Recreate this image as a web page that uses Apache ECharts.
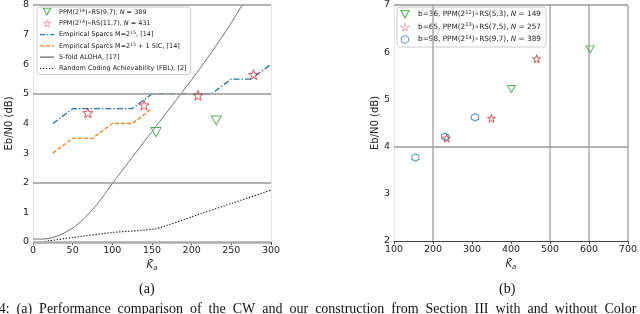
<!DOCTYPE html>
<html><head><meta charset="utf-8">
<script src="https://cdn.jsdelivr.net/npm/echarts@6/dist/echarts.min.js"></script>
<style>html,body{margin:0;padding:0;background:#fff}#c{width:640px;height:314px}</style>
</head><body><div id="c"></div>
<script>
// ---- Left chart data (a) ----
const triA = [[155, 3.71], [231, 4.1]];
const starA = [[69, 4.36], [140, 4.62], [208, 4.95], [278, 5.65]];
const sparcsBlue = [[25, 4.0], [50, 4.5], [125, 4.5], [150, 5.0], [225, 5.0], [250, 5.5], [275, 5.5], [300, 6.0]];
const sparcsOrange = [[25, 3.0], [50, 3.5], [75, 3.5], [100, 4.0], [125, 4.0], [150, 4.5]];
const aloha = [[0, 0.1], [13, 0.1], [25, 0.15], [38, 0.29], [50, 0.47], [60, 0.68], [70, 0.95], [80, 1.25], [90, 1.6], [100, 1.97], [110, 2.33], [120, 2.68], [130, 3.03], [150, 3.73], [175, 4.6], [200, 5.48], [225, 6.4], [250, 7.4], [275, 8.5]];
const fbl = [[15, 0.02], [50, 0.15], [100, 0.32], [155, 0.45], [200, 0.85], [250, 1.3], [300, 1.75]];
const refLinesA = [2, 5, 8];
// ---- Right chart data (b) ----
const triB = [[401, 5.22], [603, 6.06]];
const starB = [[235, 4.18], [350, 4.6], [466, 5.86]];
const hexB = [[155, 3.77], [231, 4.21], [308, 4.62]];
const vLinesB = [200, 500, 600, 700];
const hLinesB = [4, 7];

const TRI = 'path://M0,0 L10,0 L5,9 Z';
const STAR = 'path://M5,0 L6.18,3.62 L10,3.62 L6.91,5.86 L8.09,9.5 L5,7.25 L1.91,9.5 L3.09,5.86 L0,3.62 L3.82,3.62 Z';
const HEX = 'path://M5,0 L9.33,2.5 L9.33,7.5 L5,10 L0.67,7.5 L0.67,2.5 Z';
// hollow legend icons (outer contour + reversed inner contour)
const TRI_H = TRI + ' M1.9,0.9 L5,6.6 L8.1,0.9 Z';
const STAR_H = STAR + ' M5,1.47 L4.15,4.08 L1.4,4.08 L3.62,5.69 L2.78,8.31 L5,6.69 L7.22,8.31 L6.38,5.69 L8.6,4.08 L5.85,4.08 Z';
const HEX_H = HEX + ' M5,1 L1.54,3 L1.54,7 L5,9 L8.46,7 L8.46,3 Z';
const BOX = 'M0,0h0.01v0.01h-0.01z M13.99,7.99h0.01v0.01h-0.01z ';
const ICON_DASHDOT = 'path://' + BOX + 'M0,3.35h5v1.3h-5z M7,3.35h1.3v1.3h-1.3z M10.3,3.35h3.7v1.3h-3.7z';
const ICON_DASH = 'path://' + BOX + 'M0,3.35h4v1.3h-4z M6,3.35h4v1.3h-4z M12,3.35h2v1.3h-2z';
const ICON_SOLID = 'path://' + BOX + 'M0,3.4h14v1.2h-14z';
const ICON_DOT = 'path://' + BOX + 'M0,3.4h1.2v1.2h-1.2z M3,3.4h1.2v1.2h-1.2z M6,3.4h1.2v1.2h-1.2z M9,3.4h1.2v1.2h-1.2z M12,3.4h1.2v1.2h-1.2z';
const GREEN = '#2ca02c', RED = '#d62728', BLUE = '#1f77b4', ORANGE = '#ff7f0e';

const labels = {
  'triA': '{n|PPM(2}{s|14}{n|)∘RS(9,7), }{i|N}{n| = 389}',
  'starA': '{n|PPM(2}{s|14}{n|)∘RS(11,7), }{i|N}{n| = 431}',
  'blue': '{n|Empirical Sparcs M=2}{s|15}{n|, [14]}',
  'orange': '{n|Empirical Sparcs M=2}{s|15}{n| + 1 SIC, [14]}',
  'aloha': '{n|5-fold ALOHA, [17]}',
  'fbl': '{n|Random Coding Achievability (FBL), [2]}',
  'triB': '{n|b=36, PPM(2}{s|12}{n|)∘RS(5,3), }{i|N}{n| = 149}',
  'starB': '{n|b=65, PPM(2}{s|13}{n|)∘RS(7,5), }{i|N}{n| = 257}',
  'hexB': '{n|b=98, PPM(2}{s|14}{n|)∘RS(9,7), }{i|N}{n| = 389}'
};
const FONT = 'DejaVu Sans';
function rich(fs, lh) {
  return {
    n: {fontSize: fs, fontFamily: FONT, color: '#222', lineHeight: lh},
    s: {fontSize: fs * 0.7, fontFamily: FONT, color: '#222', lineHeight: lh, verticalAlign: 'top'},
    i: {fontSize: fs, fontFamily: FONT, fontStyle: 'italic', color: '#222', lineHeight: lh}
  };
}
const axisLabelStyle = {fontFamily: FONT, fontSize: 9.5, color: '#222', margin: 4};
const xName = '{k|K̄}{a|a}';
const xNameStyle = {rich: {k: {fontFamily: FONT, fontStyle: 'italic', fontSize: 10, color: '#222'}, a: {fontFamily: FONT, fontStyle: 'italic', fontSize: 7, color: '#222', verticalAlign: 'bottom', padding: [4, 0, 0, 0]}}};

function scatterSeries(name, data, sym, size, color, xi) {
  return {name: name, type: 'scatter', xAxisIndex: xi, yAxisIndex: xi, data: data, symbol: sym, symbolSize: size,
    itemStyle: {color: 'rgba(255,255,255,0)', borderColor: color, borderWidth: 1}, z: 5};
}
function lineSeries(name, data, color, type, width, smooth) {
  return {name: name, type: 'line', xAxisIndex: 0, yAxisIndex: 0, data: data, symbol: 'none', clip: true, smooth: smooth || false,
    lineStyle: {color: color, type: type, width: width}, itemStyle: {color: color}, z: 3};
}
function legItem(name, icon, color) {
  return {name: name, icon: icon, itemStyle: {color: color, borderWidth: 0, borderColor: 'transparent'}};
}

const chart = echarts.init(document.getElementById('c'), null, {renderer: 'canvas'});
chart.setOption({
  animation: false,
  grid: [
    {left: 33, right: 369, top: 4, bottom: 72},
    {left: 394, right: 9, top: 4, bottom: 73}
  ],
  xAxis: [
    {gridIndex: 0, type: 'value', min: 0, max: 300, interval: 50,
      axisLine: {show: false}, axisTick: {show: true, length: 3, lineStyle: {color: '#444'}}, splitLine: {show: false},
      axisLabel: axisLabelStyle, name: xName, nameLocation: 'middle', nameGap: 17, nameTextStyle: xNameStyle},
    {gridIndex: 1, type: 'value', min: 100, max: 700, interval: 100,
      axisLine: {show: true, lineStyle: {color: '#444', width: 1}}, axisTick: {show: true, length: 3, lineStyle: {color: '#444'}}, splitLine: {show: false},
      axisLabel: axisLabelStyle, name: xName, nameLocation: 'middle', nameGap: 17, nameTextStyle: xNameStyle}
  ],
  yAxis: [
    {gridIndex: 0, type: 'value', min: 0, max: 8, interval: 1,
      axisLine: {show: true, lineStyle: {color: '#e6e6e6'}}, axisTick: {show: false}, splitLine: {show: false},
      axisLabel: axisLabelStyle, name: 'Eb/N0 (dB)', nameLocation: 'middle', nameGap: 19,
      nameTextStyle: {fontFamily: FONT, fontSize: 10, color: '#222'}},
    {gridIndex: 1, type: 'value', min: 2, max: 7, interval: 1,
      axisLine: {show: true, lineStyle: {color: '#e6e6e6'}}, axisTick: {show: false}, splitLine: {show: false},
      axisLabel: axisLabelStyle, name: 'Eb/N0 (dB)', nameLocation: 'middle', nameGap: 14,
      nameTextStyle: {fontFamily: FONT, fontSize: 10, color: '#222'}}
  ],
  legend: [
    {left: 37, top: 7, orient: 'vertical', itemWidth: 14, itemHeight: 8, itemGap: 3.3, symbolKeepAspect: true,
      padding: [1, 4, 2, 3], borderColor: '#ccc', borderWidth: 1, borderRadius: 3, backgroundColor: 'rgba(255,255,255,0.85)',
      data: [legItem('triA', TRI_H, GREEN), legItem('starA', STAR_H, RED), legItem('blue', ICON_DASHDOT, BLUE),
             legItem('orange', ICON_DASH, ORANGE), legItem('aloha', ICON_SOLID, '#666'), legItem('fbl', ICON_DOT, '#111')],
      formatter: n => labels[n], textStyle: {rich: rich(6.5, 8)}},
    {left: 397, top: 7, orient: 'vertical', itemWidth: 16, itemHeight: 9, itemGap: 3.5, symbolKeepAspect: true,
      padding: [3, 5, 3, 3], borderColor: '#ccc', borderWidth: 1, borderRadius: 3, backgroundColor: 'rgba(255,255,255,0.85)',
      data: [legItem('triB', TRI_H, GREEN), legItem('starB', STAR_H, RED), legItem('hexB', HEX_H, BLUE)],
      formatter: n => labels[n], textStyle: {rich: rich(7.3, 9)}}
  ],
  series: [
    {type: 'line', xAxisIndex: 0, yAxisIndex: 0, data: [], silent: true, z: 1,
      markLine: {silent: true, symbol: 'none', label: {show: false}, animation: false,
        data: refLinesA.map(v => ({yAxis: v, lineStyle: {color: '#999', width: 1.5, type: 'solid'}}))
          .concat([{yAxis: 0, lineStyle: {color: '#aaa', width: 2.5, type: 'solid'}},
                   {xAxis: 300, lineStyle: {color: '#e6e6e6', width: 1, type: 'solid'}}])}},
    {type: 'line', xAxisIndex: 1, yAxisIndex: 1, data: [], silent: true, z: 1,
      markLine: {silent: true, symbol: 'none', label: {show: false}, animation: false,
        data: vLinesB.map(v => ({xAxis: v, lineStyle: {color: '#aaa', width: 1.5, type: 'solid'}}))
          .concat(hLinesB.map(v => ({yAxis: v, lineStyle: {color: '#999', width: 1.5, type: 'solid'}})))}},
    lineSeries('aloha', aloha, '#707070', 'solid', 1, 0.3),
    lineSeries('fbl', fbl, '#111', [1.2, 1.8], 1.2, 0.2),
    lineSeries('blue', sparcsBlue, BLUE, [6, 2, 1.5, 2], 1.3),
    lineSeries('orange', sparcsOrange, ORANGE, [4, 2], 1.3),
    scatterSeries('triA', triA, TRI, [10, 9], GREEN, 0),
    scatterSeries('starA', starA, STAR, [10, 10], RED, 0),
    scatterSeries('triB', triB, TRI, [8, 7], GREEN, 1),
    scatterSeries('starB', starB, STAR, [8, 8], RED, 1),
    scatterSeries('hexB', hexB, HEX, [7, 7.5], BLUE, 1)
  ],
  graphic: [
    {type: 'text', left: 139, top: 282, style: {text: '(a)', font: '14px "Liberation Serif"', fill: '#111'}},
    {type: 'text', left: 499, top: 282, style: {text: '(b)', font: '14px "Liberation Serif"', fill: '#111'}},
    {type: 'text', left: -27, top: 302, style: {text: 'Fig. 4:  (a)  Performance  comparison  of  the  CW  and  our  construction  from  Section  III  with  and  without  Color  distinction', font: '14px "Liberation Serif"', fill: '#111'}}
  ]
});
</script></body></html>
